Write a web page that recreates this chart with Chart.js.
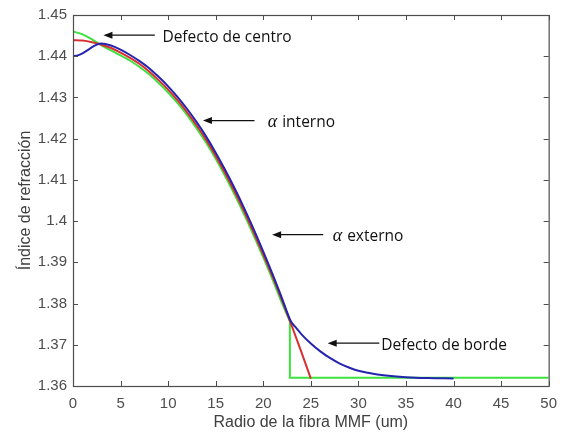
<!DOCTYPE html>
<html>
<head>
<meta charset="utf-8">
<script src="https://cdn.jsdelivr.net/npm/chart.js@4.4.1/dist/chart.umd.min.js"></script>
<style>
  html, body { margin: 0; padding: 0; background: #fff; }
  #wrap { width: 566px; height: 435px; position: relative; }
</style>
</head>
<body>
<div id="wrap"><canvas id="myChart"></canvas></div>
<script>
{
  'use strict';

  /* Data: radius (um) -> refractive index */

  // ideal alpha profile (red)
  const idealR = [0, 1, 2, 3, 4, 5, 6, 7, 8, 9, 10, 11, 12, 13, 14, 15, 16, 17, 18, 19, 20, 21, 22, 23, 24, 25];
  const idealN = [1.4439, 1.4438, 1.4434, 1.4428, 1.4420, 1.4409, 1.4396, 1.4381, 1.4363, 1.4342, 1.4319, 1.4293, 1.4264,
    1.4232, 1.4197, 1.4158, 1.4116, 1.4071, 1.4023, 1.3972, 1.3919, 1.3864, 1.3806, 1.3746, 1.3683, 1.3618];

  // measured profile with centre and edge defects (blue)
  const defectR = [0, 0.5, 1, 1.5, 2, 2.5, 3, 4, 5, 6, 7, 8, 9, 10, 11, 12, 13, 14, 15, 16, 17, 18, 19, 20, 21, 22, 22.9,
    23.5, 24, 25, 26, 27, 28, 29, 30, 31, 32, 34, 36, 38, 40];
  const defectN = [1.4400, 1.4402, 1.4407, 1.4414, 1.4422, 1.4428, 1.4431, 1.4426, 1.4416, 1.4403, 1.4388, 1.4371, 1.4350,
    1.4327, 1.4301, 1.4272, 1.4240, 1.4205, 1.4166, 1.4124, 1.4079, 1.4031, 1.3980, 1.3926, 1.3870, 1.3811, 1.3757,
    1.3740, 1.3726, 1.3703, 1.3684, 1.3668, 1.3655, 1.3645, 1.3637, 1.3632, 1.3628, 1.3623, 1.3620, 1.3619, 1.3618];

  // fitted inner/outer alpha profile (green) and its cladding step
  const fitR = [0, 1, 2, 3, 4, 5, 6, 7, 8, 9, 10, 11, 12, 13, 14, 15, 16, 17, 18, 19, 20, 21, 22, 22.8];
  const fitN = [1.4460, 1.4453, 1.4441, 1.4426, 1.4414, 1.4402, 1.4389, 1.4374, 1.4356, 1.4335, 1.4312, 1.4286, 1.4257,
    1.4225, 1.4190, 1.4151, 1.4109, 1.4064, 1.4016, 1.3965, 1.3912, 1.3857, 1.3799, 1.3757];
  const stepR = [22.8, 22.8, 50];
  const stepN = [1.3757, 1.3620, 1.3620];

  const xTicks = [0, 5, 10, 15, 20, 25, 30, 35, 40, 45, 50];
  const yTicks = [1.36, 1.37, 1.38, 1.39, 1.40, 1.41, 1.42, 1.43, 1.44, 1.45];
  const yTickLabels = ['1.36', '1.37', '1.38', '1.39', '1.4', '1.41', '1.42', '1.43', '1.44', '1.45'];

  // callouts: arrow tip, arrow tail and text start on x, all at index level "at"
  const notes = [
    { greek: '', label: 'Defecto de centro', tip: 3.2, tail: 8.6, text: 9.4, at: 1.4451 },
    { greek: 'α', label: 'interno', tip: 13.66, tail: 19.08, text: 20.47, at: 1.4244 },
    { greek: 'α', label: 'externo', tip: 20.93, tail: 26.3, text: 27.3, at: 1.3967 },
    { greek: '', label: 'Defecto de borde', tip: 26.77, tail: 32.2, text: 32.4, at: 1.3704 }
  ];

  const toPoints = (xs, ys) => xs.map((v, i) => ({ x: v, y: ys[i] }));

  const axisColor = '#4d4d4d';
  const tickFont = { family: "'Liberation Sans', Arial, sans-serif", size: 15 };
  const titleFont = { family: "'Liberation Sans', Arial, sans-serif", size: 16 };

  /* Box frame with inward ticks on all four sides */
  const boxTicks = {
    id: 'boxTicks',
    afterDatasetsDraw(chart) {
      const { ctx, chartArea: a, scales: { x, y } } = chart;
      ctx.save();
      ctx.strokeStyle = axisColor;
      ctx.lineWidth = 1;
      ctx.beginPath();
      for (const v of xTicks) {
        const px = Math.round(x.getPixelForValue(v)) + 0.5;
        ctx.moveTo(px, a.bottom); ctx.lineTo(px, a.bottom - 5);
        ctx.moveTo(px, a.top); ctx.lineTo(px, a.top + 5);
      }
      for (const v of yTicks) {
        const py = Math.round(y.getPixelForValue(v)) + 0.5;
        ctx.moveTo(a.left, py); ctx.lineTo(a.left + 5, py);
        ctx.moveTo(a.right, py); ctx.lineTo(a.right - 5, py);
      }
      ctx.stroke();
      ctx.lineWidth = 1.2;
      ctx.strokeRect(a.left + 0.5, a.top + 0.5, a.right - a.left, a.bottom - a.top);
      ctx.restore();
    }
  };

  /* Arrows and text labels */
  const callouts = {
    id: 'callouts',
    afterDraw(chart) {
      const { ctx, scales: { x, y } } = chart;
      ctx.save();
      ctx.strokeStyle = '#111';
      ctx.fillStyle = '#111';
      ctx.lineWidth = 1.2;
      for (const n of notes) {
        const py = y.getPixelForValue(n.at);
        const tip = x.getPixelForValue(n.tip);
        const tail = x.getPixelForValue(n.tail);
        ctx.beginPath();
        ctx.moveTo(tail, py);
        ctx.lineTo(tip + 6, py);
        ctx.stroke();
        ctx.beginPath();
        ctx.moveTo(tip, py);
        ctx.lineTo(tip + 9, py - 3.5);
        ctx.lineTo(tip + 9, py + 3.5);
        ctx.closePath();
        ctx.fill();

        let tx = x.getPixelForValue(n.text);
        ctx.textBaseline = 'alphabetic';
        ctx.textAlign = 'left';
        if (n.greek) {
          ctx.font = "italic 18px 'Liberation Serif', serif";
          ctx.fillText(n.greek, tx, py + 6.5);
          tx += ctx.measureText(n.greek).width + 5;
        }
        ctx.font = "15.5px 'Open Sans', sans-serif";
        ctx.fillText(n.label, tx, py + 6.5);
      }
      ctx.restore();
    }
  };

  function initChart() {
    const ctx = document.getElementById('myChart').getContext('2d');

    const line = (data, color, order, curved) => ({
      data: data,
      borderColor: color,
      backgroundColor: color,
      borderWidth: 2,
      pointRadius: 0,
      fill: false,
      order: order,
      tension: curved ? 0.4 : 0,
      cubicInterpolationMode: curved ? 'monotone' : 'default'
    });

    new Chart(ctx, {
      type: 'line',
      data: {
        datasets: [
          line(toPoints(defectR, defectN), '#2424b0', 0, true),
          line(toPoints(idealR, idealN), '#d83030', 1, true),
          line(toPoints(fitR, fitN), '#3ee23e', 2, true),
          line(toPoints(stepR, stepN), '#3ee23e', 3, false)
        ]
      },
      options: {
        responsive: true,
        maintainAspectRatio: false,
        animation: false,
        layout: { padding: { top: 9, right: 16, left: 0, bottom: 0 } },
        plugins: {
          legend: { display: false },
          tooltip: { enabled: false }
        },
        scales: {
          x: {
            type: 'linear',
            min: 0,
            max: 50,
            grid: { display: false, drawTicks: false },
            border: { display: false },
            afterBuildTicks: (scale) => { scale.ticks = xTicks.map(v => ({ value: v })); },
            afterFit: (scale) => { scale.height = 49; },
            ticks: {
              autoSkip: false,
              maxRotation: 0,
              padding: 9,
              color: axisColor,
              font: tickFont,
              callback: (v) => String(v)
            },
            title: {
              display: true,
              text: 'Radio de la fibra MMF (um)',
              color: '#404040',
              font: titleFont,
              padding: { top: 0, bottom: 3 }
            }
          },
          y: {
            type: 'linear',
            min: 1.36,
            max: 1.45,
            grid: { display: false, drawTicks: false },
            border: { display: false },
            afterBuildTicks: (scale) => { scale.ticks = yTicks.map(v => ({ value: v })); },
            afterFit: (scale) => { scale.width = 73; },
            ticks: {
              autoSkip: false,
              padding: 6,
              color: axisColor,
              font: tickFont,
              callback: (v, i) => yTickLabels[i]
            },
            title: {
              display: true,
              text: 'Índice de refracción',
              color: '#404040',
              font: titleFont,
              padding: { top: 16, bottom: 0 }
            }
          }
        }
      },
      plugins: [boxTicks, callouts]
    });
  }

  initChart();
}
</script>
</body>
</html>
